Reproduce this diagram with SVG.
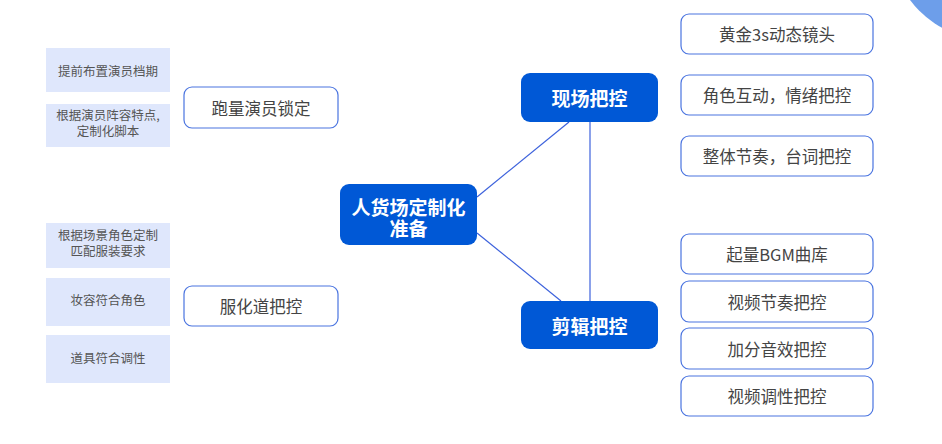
<svg xmlns="http://www.w3.org/2000/svg" width="942" height="444" viewBox="0 0 942 444">
<style>
text{font-family:"Noto Sans CJK SC","Noto Sans",sans-serif;text-anchor:middle;dominant-baseline:central}
.sm rect{fill:#dfe7fc}
.sm text{font-size:12.5px;fill:#555}
.ol rect{fill:#fff;stroke:#4a74e0;stroke-width:1.2}
.ol text{font-size:16.5px;fill:#444}
.mn rect{fill:#0058d6}
.mn text{font-size:19px;font-weight:bold;fill:#fff}
.cn line{stroke:#3d62dc;stroke-width:1.2}
</style>
<rect width="942" height="444" fill="#fff"/>
<circle cx="990" cy="-60" r="100" fill="#6d9eea"/>
<g class="cn" id="connectors">
<line x1="477" y1="197" x2="569" y2="122"/>
<line x1="477" y1="233" x2="561" y2="301"/>
<line x1="590" y1="122" x2="590" y2="301"/>
</g>
<g id="n_center" class="mn"><rect x="340" y="184" width="137" height="61" rx="9"/><text x="408.5" y="206">人货场定制化<tspan x="408.5" dy="21">准备</tspan></text></g>
<g id="n_xc" class="mn"><rect x="521" y="73" width="137" height="49" rx="9"/><text x="589.5" y="97.5">现场把控</text></g>
<g id="n_jj" class="mn"><rect x="521" y="301" width="137" height="48" rx="9"/><text x="589.5" y="325">剪辑把控</text></g>
<g id="n_plyy" class="ol"><rect x="184" y="87" width="154" height="41" rx="8"/><text x="261" y="107.5">跑量演员锁定</text></g>
<g id="n_fhd" class="ol"><rect x="184" y="286" width="154" height="40" rx="8"/><text x="261" y="306">服化道把控</text></g>
<g id="s1" class="sm"><rect x="46" y="48" width="124" height="44"/><text x="108" y="70.5">提前布置演员档期</text></g>
<g id="s2" class="sm"><rect x="46" y="104" width="124" height="43"/><text x="108" y="114">根据演员阵容特点,<tspan x="108" dy="16">定制化脚本</tspan></text></g>
<g id="s3" class="sm"><rect x="46" y="223" width="124" height="45"/><text x="108" y="234">根据场景角色定制<tspan x="108" dy="16">匹配服装要求</tspan></text></g>
<g id="s4" class="sm"><rect x="46" y="278" width="124" height="48"/><text x="108" y="299">妆容符合角色</text></g>
<g id="s5" class="sm"><rect x="46" y="335" width="124" height="48"/><text x="108" y="357">道具符合调性</text></g>
<g id="r1" class="ol"><rect x="681" y="14" width="192" height="40" rx="8"/><text x="777" y="34">黄金3s动态镜头</text></g>
<g id="r2" class="ol"><rect x="681" y="75" width="192" height="40" rx="8"/><text x="777" y="95">角色互动，情绪把控</text></g>
<g id="r3" class="ol"><rect x="681" y="136" width="192" height="40" rx="8"/><text x="777" y="156">整体节奏，台词把控</text></g>
<g id="r4" class="ol"><rect x="681" y="234" width="192" height="40" rx="8"/><text x="777" y="254">起量BGM曲库</text></g>
<g id="r5" class="ol"><rect x="681" y="281" width="192" height="41" rx="8"/><text x="777" y="301.5">视频节奏把控</text></g>
<g id="r6" class="ol"><rect x="681" y="328" width="192" height="41" rx="8"/><text x="777" y="348.5">加分音效把控</text></g>
<g id="r7" class="ol"><rect x="681" y="376" width="192" height="40" rx="8"/><text x="777" y="396">视频调性把控</text></g>
</svg>
